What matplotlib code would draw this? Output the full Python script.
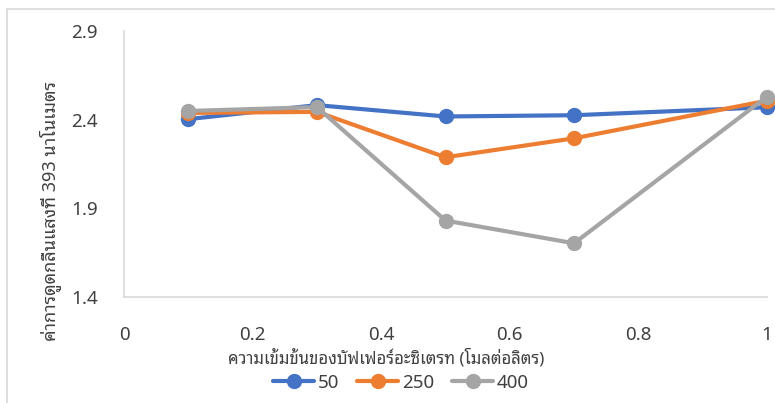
import matplotlib
matplotlib.use("Agg")
import matplotlib.pyplot as plt
from matplotlib.patches import Rectangle

plt.rcParams['font.family'] = ['Noto Sans Thai Looped', 'DejaVu Sans']

x_values = [0.1, 0.3, 0.5, 0.7, 1.0]
series_names = ["50", "250", "400"]
s50 = [2.403, 2.482, 2.418, 2.425, 2.470]
s250 = [2.438, 2.444, 2.188, 2.295, 2.507]
s400 = [2.449, 2.471, 1.831, 1.703, 2.530]
colors = ["#4472C4", "#ED7D31", "#A5A5A5"]
x_ticks = [0, 0.2, 0.4, 0.6, 0.8, 1]
x_tick_labels = ["0", "0.2", "0.4", "0.6", "0.8", "1"]
y_ticks = [1.4, 1.9, 2.4, 2.9]
y_tick_labels = ["1.4", "1.9", "2.4", "2.9"]
x_label = "ความเข้มข้นของบัฟเฟอร์อะซิเตรท (โมลต่อลิตร)"
y_label = "ค่าการดูดกลืนแสงที่ 393 นาโนเมตร"

W, H = 775, 403
fig = plt.figure(figsize=(W/100, H/100), dpi=100)
ax = fig.add_axes([124/W, 1-297/H, (767-124)/W, (297-31)/H])

for vals, name, c in zip([s50, s250, s400], series_names, colors):
    ax.plot(x_values, vals, color=c, lw=3, marker='o', ms=10, label=name,
            solid_capstyle='round', clip_on=False)

ax.set_xlim(0, 1)
ax.set_ylim(1.4, 2.9)
ax.set_xticks(x_ticks)
ax.set_xticklabels(x_tick_labels)
ax.set_yticks(y_ticks)
ax.set_yticklabels(y_tick_labels)
ax.tick_params(axis='both', length=0, labelsize=13.5, colors='#404040', labelcolor='#404040')
ax.tick_params(axis='y', pad=19)
ax.tick_params(axis='x', pad=21)
for s in ['top', 'right']:
    ax.spines[s].set_visible(False)
for s in ['left', 'bottom']:
    ax.spines[s].set_color('#D9D9D9')
    ax.spines[s].set_linewidth(1.2)

fig.text(386/W, 1-358/H, x_label, ha='center', va='center', fontsize=12, color='#404040')
fig.text(50/W, 1-211/H, y_label, ha='center', va='center', rotation=90, fontsize=13, color='#404040')

fig.legend(loc='center', bbox_to_anchor=(401/W, 1-383/H), ncol=3, frameon=False,
           fontsize=13.5, handlelength=2.2, handletextpad=0.2, columnspacing=0.95,
           labelcolor='#404040', borderaxespad=0, borderpad=0)

fig.patches.append(Rectangle((7/W, -0.1), 1.2, (H-9)/H + 0.1, transform=fig.transFigure,
                             fill=False, edgecolor='#D9D9D9', lw=1.2))

fig.savefig("out.png", dpi=100)
